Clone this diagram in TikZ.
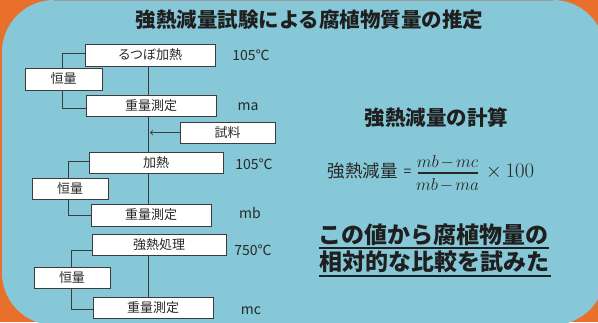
\documentclass[tikz,border=0pt]{standalone}
\usepackage[no-math]{fontspec}
\setmainfont{Noto Sans CJK JP}
\usetikzlibrary{arrows.meta}
\definecolor{bgorange}{RGB}{232,112,42}
\definecolor{bgblue}{RGB}{134,200,215}
\definecolor{boxline}{RGB}{60,60,60}
\definecolor{txt}{RGB}{40,40,40}
\begin{document}
\begin{tikzpicture}[x=1pt,y=-1pt,
  box/.style={draw=boxline,line width=0.9pt,fill=white,inner sep=0pt,text=txt,font=\fontsize{13}{15}\selectfont},
  lab/.style={text=txt,inner sep=0pt,font=\fontsize{14}{16}\selectfont},
  conn/.style={draw=boxline,line width=0.9pt},
  head/.style={text=black!88,inner sep=0pt,font=\bfseries}]
\useasboundingbox (0,0) rectangle (598,322);
\clip (0,0) rectangle (598,322);
\fill[bgorange] (0,0) rectangle (598,322);
\fill[bgblue,rounded corners=52pt] (2,0) rectangle (605,325);
\draw[gray!80,line width=1.4pt] (54,0.7) -- (553,0.7);

% title
\node[head,font=\bfseries\fontsize{20.5}{22}\selectfont] (title) at (309.5,20) {強熱減量試験による腐植物質量の推定};

% main column coordinate
\coordinate (mx) at (148,0);
\coordinate (sa) at (150,132.5);

% boxes
\node[box,minimum width=130pt,minimum height=22pt] (b1) at (150,55) {るつぼ加熱};
\node[box,minimum width=130pt,minimum height=21pt] (b2) at (151,105.5) {重量測定};
\node[box,minimum width=95pt,minimum height=21pt] (s) at (227.5,132.5) {試料};
\node[box,minimum width=134pt,minimum height=21pt] (b3) at (156,162.5) {加熱};
\node[box,minimum width=120pt,minimum height=22pt] (b4) at (151,215) {重量測定};
\node[box,minimum width=134pt,minimum height=21pt] (b5) at (159,244.5) {強熱処理};
\node[box,minimum width=120pt,minimum height=21pt] (b6) at (153,307.5) {重量測定};

% brackets (behind 恒量 boxes)
\draw[conn] ([yshift=2pt]b1.west) -- ++(-22,0) |- ([yshift=-2.5pt]b2.west);
\draw[conn] ([yshift=1.5pt]b3.west) -- ++(-20,0) |- (b4.west);
\draw[conn] ([yshift=-6pt]b5.west) -- ++(-20,0) |- ([yshift=-1.5pt]b6.west);

\node[box,minimum width=77pt,minimum height=22pt] (k1) at (63.5,79) {恒量};
\node[box,minimum width=76pt,minimum height=21pt] (k2) at (70,188.5) {恒量};
\node[box,minimum width=76pt,minimum height=21pt] (k3) at (72,277.5) {恒量};

% main line
\draw[conn] (b1.south -| mx) -- (b2.north -| mx);
\draw[conn] (b2.south -| mx) -- (b3.north -| mx);
\draw[conn] (b3.south -| mx) -- (b4.north -| mx);
\draw[conn] (b5.south -| mx) -- (b6.north -| mx);
\draw[conn,line width=0.7pt,-{Straight Barb[length=2.5pt,width=5pt]}] (s.west) -- (sa);

% labels
\node[lab] (l1) at (251,55) {105℃};
\node[lab] (l2) at (248,107) {ma};
\node[lab] (l3) at (254,164.5) {105℃};
\node[lab] (l4) at (250,213) {mb};
\node[lab] (l5) at (253,250) {750℃};
\node[lab] (l6) at (251,311) {mc};

% right side
\node[head,font=\bfseries\fontsize{20.5}{22}\selectfont] (calc) at (436.5,118) {強熱減量の計算};
\node[text=txt,inner sep=0pt,font=\fontsize{17.5}{19}\selectfont] (f1) at (362.5,171) {強熱減量};
\node[text=txt,inner sep=0pt,font=\fontsize{14}{16}\selectfont] (eq) at (407.5,172.5) {=};
\node[text=txt,inner sep=0pt,anchor=base,font=\fontsize{16.5}{18}\selectfont] (num) at (447.5,167.5) {$mb{\mskip2mu-\mskip2mu}mc$};
\node[text=txt,inner sep=0pt,anchor=base,font=\fontsize{16.5}{18}\selectfont] (den) at (447.5,190) {$mb{\mskip2mu-\mskip2mu}ma$};
\coordinate (bl) at (418,173);
\coordinate (br) at (478,173);
\draw[txt,line width=1.5pt] (bl) -- (br);
\node[text=txt,inner sep=0pt,font=\fontsize{21}{23}\selectfont] (times) at (510,172) {$\times\,100$};

\node[head,font=\bfseries\fontsize{23}{25}\selectfont] (c1) at (433.5,235) {この値から腐植物量の};
\node[head,font=\bfseries\fontsize{23}{25}\selectfont] (c2) at (434.5,262) {相対的な比較を試みた};
\coordinate (u1a) at (319,248); \coordinate (u1b) at (549,248);
\coordinate (u2a) at (319,275.5); \coordinate (u2b) at (551,275.5);
\draw[black!88,line width=2pt] (u1a) -- (u1b);
\draw[black!88,line width=2pt] (u2a) -- (u2b);
\end{tikzpicture}
\end{document}
